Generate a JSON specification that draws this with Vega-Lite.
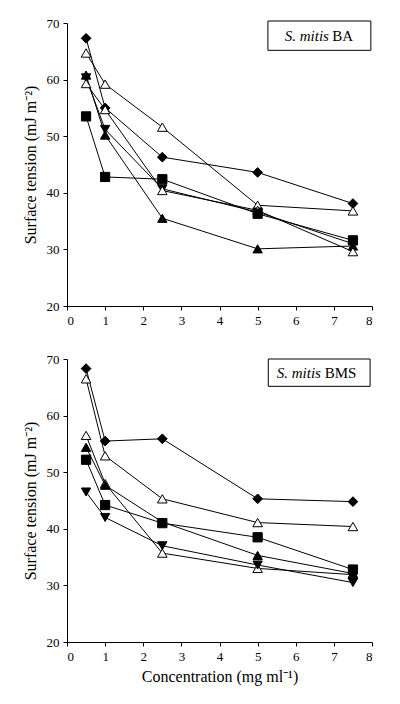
{
  "$schema": "https://vega.github.io/schema/vega-lite/v6.json",
  "background": "white",
  "padding": {"left": 22, "top": 17, "right": 5, "bottom": 5},
  "spacing": 26,
  "config": {
    "font": "'Liberation Serif', 'Times New Roman', serif",
    "view": {"stroke": null},
    "text": {"font": "'Liberation Serif', 'Times New Roman', serif"},
    "axis": {
      "domainColor": "black", "tickColor": "black", "labelColor": "black", "titleColor": "black",
      "labelFont": "'Liberation Serif', 'Times New Roman', serif", "titleFont": "'Liberation Serif', 'Times New Roman', serif",
      "labelFontSize": 13, "titleFontSize": 16, "titleFontWeight": "normal", "labelOverlap": false,
      "grid": false, "tickSize": 4, "labelPadding": 4, "domainWidth": 1, "tickWidth": 1
    }
  },
  "datasets": {
    "ba": [
      {"series": "diamond", "conc": 0.5, "tension": 67.3},
      {"series": "diamond", "conc": 1, "tension": 55.0},
      {"series": "diamond", "conc": 2.5, "tension": 46.3},
      {"series": "diamond", "conc": 5, "tension": 43.6},
      {"series": "diamond", "conc": 7.5, "tension": 38.1},
      {"series": "open1", "conc": 0.5, "tension": 64.7},
      {"series": "open1", "conc": 1, "tension": 59.2},
      {"series": "open1", "conc": 2.5, "tension": 51.6},
      {"series": "open1", "conc": 5, "tension": 37.8},
      {"series": "open1", "conc": 7.5, "tension": 36.8},
      {"series": "up", "conc": 0.5, "tension": 60.8},
      {"series": "up", "conc": 1, "tension": 50.2},
      {"series": "up", "conc": 2.5, "tension": 35.5},
      {"series": "up", "conc": 5, "tension": 30.1},
      {"series": "up", "conc": 7.5, "tension": 30.6},
      {"series": "down", "conc": 0.5, "tension": 60.3},
      {"series": "down", "conc": 1, "tension": 51.2},
      {"series": "down", "conc": 2.5, "tension": 40.7},
      {"series": "down", "conc": 5, "tension": 36.6},
      {"series": "down", "conc": 7.5, "tension": 31.0},
      {"series": "open2", "conc": 0.5, "tension": 59.3},
      {"series": "open2", "conc": 1, "tension": 54.7},
      {"series": "open2", "conc": 2.5, "tension": 40.4},
      {"series": "open2", "conc": 5, "tension": 36.9},
      {"series": "open2", "conc": 7.5, "tension": 29.6},
      {"series": "square", "conc": 0.5, "tension": 53.5},
      {"series": "square", "conc": 1, "tension": 42.8},
      {"series": "square", "conc": 2.5, "tension": 42.4},
      {"series": "square", "conc": 5, "tension": 36.3},
      {"series": "square", "conc": 7.5, "tension": 31.6}
    ],
    "bms": [
      {"series": "diamond", "conc": 0.5, "tension": 68.3},
      {"series": "diamond", "conc": 1, "tension": 55.5},
      {"series": "diamond", "conc": 2.5, "tension": 55.9},
      {"series": "diamond", "conc": 5, "tension": 45.3},
      {"series": "diamond", "conc": 7.5, "tension": 44.8},
      {"series": "open1", "conc": 0.5, "tension": 66.5},
      {"series": "open1", "conc": 1, "tension": 52.9},
      {"series": "open1", "conc": 2.5, "tension": 45.3},
      {"series": "open1", "conc": 5, "tension": 41.1},
      {"series": "open1", "conc": 7.5, "tension": 40.4},
      {"series": "open2", "conc": 0.5, "tension": 56.5},
      {"series": "open2", "conc": 1, "tension": 48.0},
      {"series": "open2", "conc": 2.5, "tension": 35.7},
      {"series": "open2", "conc": 5, "tension": 33.0},
      {"series": "open2", "conc": 7.5, "tension": 31.9},
      {"series": "up", "conc": 0.5, "tension": 54.4},
      {"series": "up", "conc": 1, "tension": 47.7},
      {"series": "up", "conc": 2.5, "tension": 41.2},
      {"series": "up", "conc": 5, "tension": 35.3},
      {"series": "up", "conc": 7.5, "tension": 32.1},
      {"series": "square", "conc": 0.5, "tension": 52.2},
      {"series": "square", "conc": 1, "tension": 44.2},
      {"series": "square", "conc": 2.5, "tension": 41.0},
      {"series": "square", "conc": 5, "tension": 38.5},
      {"series": "square", "conc": 7.5, "tension": 32.8},
      {"series": "down", "conc": 0.5, "tension": 46.5},
      {"series": "down", "conc": 1, "tension": 42.0},
      {"series": "down", "conc": 2.5, "tension": 37.0},
      {"series": "down", "conc": 5, "tension": 33.6},
      {"series": "down", "conc": 7.5, "tension": 30.5}
    ]
  },
  "vconcat": [
    {
      "width": 305, "height": 283,
      "layer": [
        {
          "data": {"name": "ba"},
          "mark": {"type": "line", "color": "black", "strokeWidth": 1},
          "encoding": {
            "x": {"field": "conc", "type": "quantitative", "scale": {"domain": [0, 8], "nice": false}, "axis": {"tickCount": 8, "title": null, "labelOverlap": false}},
            "y": {"field": "tension", "type": "quantitative", "scale": {"domain": [20, 70], "nice": false, "zero": false}, "axis": {"tickCount": 5, "title": "Surface tension (mJ m⁻²)", "titlePadding": 8}},
            "detail": {"field": "series"}
          }
        },
        {
          "data": {"name": "ba"},
          "mark": {"type": "point", "filled": true, "stroke": "black", "strokeWidth": 1, "opacity": 1},
          "encoding": {
            "x": {"field": "conc", "type": "quantitative"},
            "y": {"field": "tension", "type": "quantitative"},
            "shape": {"field": "series", "scale": {"domain": ["diamond","open1","open2","up","down","square"], "range": ["diamond","triangle-up","triangle-up","triangle-up","triangle-down","square"]}, "legend": null},
            "fill": {"field": "series", "scale": {"domain": ["diamond","open1","open2","up","down","square"], "range": ["black","white","white","black","black","black"]}, "legend": null},
            "size": {"field": "series", "scale": {"domain": ["diamond","open1","open2","up","down","square"], "range": [95,85,85,85,85,60]}, "legend": null}
          }
        },
        {
          "data": {"values": [{}]},
          "mark": {"type": "rect", "fill": "white", "stroke": "black", "strokeWidth": 1},
          "encoding": {
            "x": {"datum": 5.27, "type": "quantitative"},
            "x2": {"datum": 7.97},
            "y": {"datum": 70.35, "type": "quantitative"},
            "y2": {"datum": 65.17}
          }
        },
        {
          "data": {"values": [{"label": "S. mitis"}]},
          "mark": {"type": "text", "align": "right", "baseline": "middle", "fontStyle": "italic", "fontSize": 15, "color": "black"},
          "encoding": {
            "x": {"datum": 6.87, "type": "quantitative"},
            "y": {"datum": 67.7, "type": "quantitative"},
            "text": {"field": "label"}
          }
        },
        {
          "data": {"values": [{"label": "BA"}]},
          "mark": {"type": "text", "align": "left", "baseline": "middle", "fontSize": 15, "color": "black"},
          "encoding": {
            "x": {"datum": 6.96, "type": "quantitative"},
            "y": {"datum": 67.7, "type": "quantitative"},
            "text": {"field": "label"}
          }
        }
      ]
    },
    {
      "width": 305, "height": 283,
      "layer": [
        {
          "data": {"name": "bms"},
          "mark": {"type": "line", "color": "black", "strokeWidth": 1},
          "encoding": {
            "x": {"field": "conc", "type": "quantitative", "scale": {"domain": [0, 8], "nice": false}, "axis": {"tickCount": 8, "title": "Concentration (mg ml⁻¹)", "titlePadding": 5, "labelOverlap": false}},
            "y": {"field": "tension", "type": "quantitative", "scale": {"domain": [20, 70], "nice": false, "zero": false}, "axis": {"tickCount": 5, "title": "Surface tension (mJ m⁻²)", "titlePadding": 8}},
            "detail": {"field": "series"}
          }
        },
        {
          "data": {"name": "bms"},
          "mark": {"type": "point", "filled": true, "stroke": "black", "strokeWidth": 1, "opacity": 1},
          "encoding": {
            "x": {"field": "conc", "type": "quantitative"},
            "y": {"field": "tension", "type": "quantitative"},
            "shape": {"field": "series", "scale": {"domain": ["diamond","open1","open2","up","down","square"], "range": ["diamond","triangle-up","triangle-up","triangle-up","triangle-down","square"]}, "legend": null},
            "fill": {"field": "series", "scale": {"domain": ["diamond","open1","open2","up","down","square"], "range": ["black","white","white","black","black","black"]}, "legend": null},
            "size": {"field": "series", "scale": {"domain": ["diamond","open1","open2","up","down","square"], "range": [95,85,85,85,85,60]}, "legend": null}
          }
        },
        {
          "data": {"values": [{}]},
          "mark": {"type": "rect", "fill": "white", "stroke": "black", "strokeWidth": 1},
          "encoding": {
            "x": {"datum": 5.28, "type": "quantitative"},
            "x2": {"datum": 7.95},
            "y": {"datum": 70.0, "type": "quantitative"},
            "y2": {"datum": 65.17}
          }
        },
        {
          "data": {"values": [{"label": "S. mitis"}]},
          "mark": {"type": "text", "align": "right", "baseline": "middle", "fontStyle": "italic", "fontSize": 15, "color": "black"},
          "encoding": {
            "x": {"datum": 6.66, "type": "quantitative"},
            "y": {"datum": 67.55, "type": "quantitative"},
            "text": {"field": "label"}
          }
        },
        {
          "data": {"values": [{"label": "BMS"}]},
          "mark": {"type": "text", "align": "left", "baseline": "middle", "fontSize": 15, "color": "black"},
          "encoding": {
            "x": {"datum": 6.76, "type": "quantitative"},
            "y": {"datum": 67.55, "type": "quantitative"},
            "text": {"field": "label"}
          }
        }
      ]
    }
  ]
}
